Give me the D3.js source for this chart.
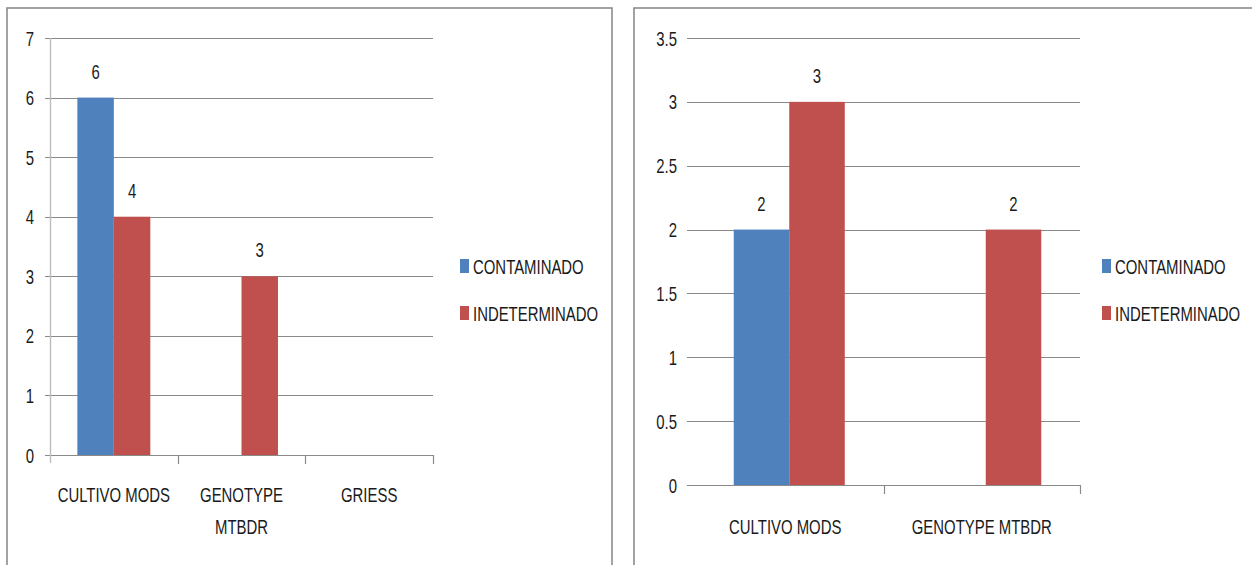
<!DOCTYPE html>
<html>
<head>
<meta charset="utf-8">
<script src="https://cdn.jsdelivr.net/npm/d3@7"></script>
<style>
  html, body { margin: 0; padding: 0; background: #fff; }
  svg text { font-family: "Liberation Sans", "DejaVu Sans", sans-serif; fill: #1a1a1a; }
</style>
</head>
<body>
<svg id="chart" width="1252" height="565"></svg>
<script>
// Panel A: three methods
const categoriesA = ["CULTIVO MODS", "GENOTYPE MTBDR", "GRIESS"];
const tickLinesA = [["CULTIVO MODS"], ["GENOTYPE", "MTBDR"], ["GRIESS"]];
const contaminadoA = [6, null, null];
const indeterminadoA = [4, 3, null];
const yTicksA = [0, 1, 2, 3, 4, 5, 6, 7];

// Panel B: two methods
const categoriesB = ["CULTIVO MODS", "GENOTYPE MTBDR"];
const tickLinesB = [["CULTIVO MODS"], ["GENOTYPE MTBDR"]];
const contaminadoB = [2, null];
const indeterminadoB = [3, 2];
const yTicksB = [0, 0.5, 1, 1.5, 2, 2.5, 3, 3.5];

const seriesNames = ["CONTAMINADO", "INDETERMINADO"];
const seriesColors = ["#4F81BD", "#C0504D"];

const svg = d3.select("#chart");
const FONT = 21;
const SQUEEZE = 0.71; // narrow, condensed lettering

// compress a text element horizontally around its anchor
function squeeze(sel) {
  sel.each(function () {
    const w = this.getComputedTextLength();
    if (w > 0) {
      d3.select(this).attr("textLength", w * SQUEEZE).attr("lengthAdjust", "spacingAndGlyphs");
    }
  });
  return sel;
}

function panel(cfg) {
  const g = svg.append("g");
  // outer frame
  g.append("rect")
    .attr("x", cfg.frame[0]).attr("y", cfg.frame[1])
    .attr("width", cfg.frame[2]).attr("height", cfg.frame[3])
    .attr("fill", "#fff").attr("stroke", "#8c8c8c").attr("stroke-width", 1.6);

  const x = d3.scaleBand().domain(cfg.categories).range([cfg.left, cfg.right])
    .paddingInner(0).paddingOuter(0);
  const y = d3.scaleLinear().domain([0, d3.max(cfg.yTicks)]).range([cfg.bottom, cfg.top]);
  const inner = d3.scaleBand().domain(seriesNames).range([0, x.bandwidth()])
    .paddingOuter(cfg.groupPad).paddingInner(0);

  // gridlines
  g.append("g").selectAll("line").data(cfg.yTicks).join("line")
    .attr("x1", cfg.left - (cfg.yAxisLine ? 5 : 0)).attr("x2", cfg.right)
    .attr("y1", d => Math.round(y(d)) + 0.5).attr("y2", d => Math.round(y(d)) + 0.5)
    .attr("stroke", "#8a8a8a").attr("stroke-width", 1);

  // y axis tick labels
  g.append("g").selectAll("text").data(cfg.yTicks).join("text")
    .attr("x", cfg.yLabelX).attr("y", d => y(d))
    .attr("dy", "0.36em").attr("text-anchor", "end")
    .attr("font-size", FONT)
    .text(d => cfg.fmt(d))
    .call(squeeze);

  // vertical axis line
  if (cfg.yAxisLine) {
    g.append("line")
      .attr("x1", cfg.left + 0.5).attr("x2", cfg.left + 0.5)
      .attr("y1", cfg.top).attr("y2", cfg.bottom + 8)
      .attr("stroke", "#bdbdbd").attr("stroke-width", 1.4);
  }

  // category boundary ticks
  const bounds = cfg.categories.map(c => x(c)).concat([cfg.right]).slice(1);
  g.append("g").selectAll("line").data(bounds).join("line")
    .attr("x1", d => Math.round(d) + 0.5).attr("x2", d => Math.round(d) + 0.5)
    .attr("y1", cfg.bottom).attr("y2", cfg.bottom + 9)
    .attr("stroke", "#8a8a8a").attr("stroke-width", 1.2);

  // bars + value labels
  const bx = (c, si) => x(c) + inner(seriesNames[si]) + cfg.groupShift;
  [cfg.contaminado, cfg.indeterminado].forEach((vals, si) => {
    const data = cfg.categories.map((c, i) => ({ c, v: vals[i] })).filter(d => d.v != null);
    g.append("g").selectAll("rect").data(data).join("rect")
      .attr("x", d => bx(d.c, si))
      .attr("y", d => y(d.v))
      .attr("width", inner.bandwidth())
      .attr("height", d => y(0) - y(d.v))
      .attr("fill", seriesColors[si]);
    g.append("g").selectAll("text").data(data).join("text")
      .attr("x", d => bx(d.c, si) + inner.bandwidth() / 2)
      .attr("y", d => y(d.v) - 19)
      .attr("text-anchor", "middle")
      .attr("font-size", FONT)
      .text(d => d.v)
      .call(squeeze);
  });

  // category labels, one text per line
  cfg.categories.forEach((c, i) => {
    cfg.tickLines[i].forEach((line, li) => {
      g.append("text")
        .attr("x", x(c) + x.bandwidth() / 2)
        .attr("y", cfg.catLabelY + li * 32)
        .attr("text-anchor", "middle")
        .attr("font-size", FONT)
        .text(line)
        .call(squeeze);
    });
  });

  // legend
  const lg = g.append("g").attr("transform", `translate(${cfg.legendX},${cfg.legendY})`);
  seriesNames.forEach((n, i) => {
    lg.append("rect").attr("x", 0).attr("y", i * 47 - 7)
      .attr("width", 9).attr("height", 14).attr("fill", seriesColors[i]);
    lg.append("text").attr("x", 13).attr("y", i * 47).attr("dy", "0.36em")
      .attr("font-size", FONT).text(n)
      .call(squeeze);
  });
}

panel({
  frame: [7, 8, 605, 600],
  categories: categoriesA, tickLines: tickLinesA,
  contaminado: contaminadoA, indeterminado: indeterminadoA,
  yTicks: yTicksA, fmt: d3.format("d"),
  left: 50, right: 433, top: 38, bottom: 455,
  groupPad: 0.75, groupShift: 0, yAxisLine: true, yLabelX: 34,
  catLabelY: 502, legendX: 460, legendY: 266
});

panel({
  frame: [634, 8, 640, 600],
  categories: categoriesB, tickLines: tickLinesB,
  contaminado: contaminadoB, indeterminado: indeterminadoB,
  yTicks: yTicksB, fmt: d => d3.format("")(d),
  left: 687, right: 1080, top: 38, bottom: 485,
  groupPad: 0.77, groupShift: 4, yAxisLine: false, yLabelX: 677,
  catLabelY: 534, legendX: 1102, legendY: 266
});
</script>
</body>
</html>
